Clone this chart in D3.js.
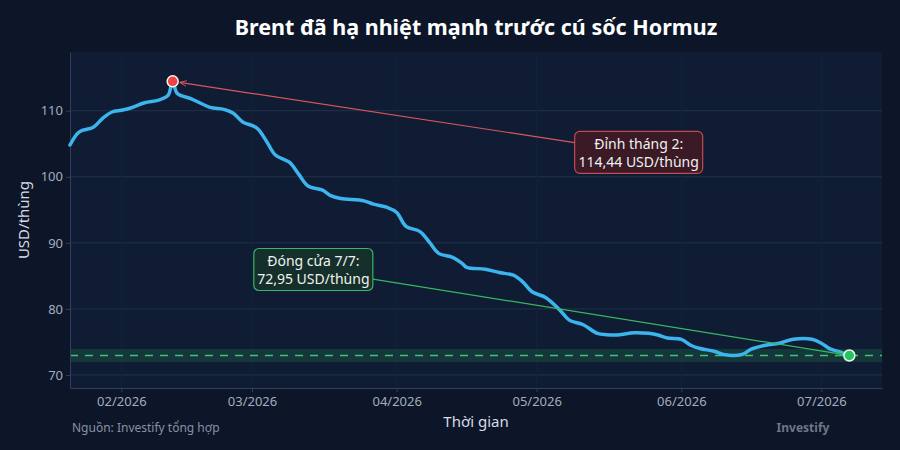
<!DOCTYPE html>
<html>
<head>
<meta charset="utf-8">
<script src="https://cdn.jsdelivr.net/npm/d3@7"></script>
<style>
  html, body { margin: 0; padding: 0; background: #0c1628; }
  svg { display: block; font-family: "Noto Sans", "Open Sans", sans-serif; }
</style>
</head>
<body>
<div id="chart"></div>
<script>
// Brent price
const dates = [
  "2026-01-21", "2026-01-23", "2026-01-26", "2026-01-28", "2026-01-30",
  "2026-02-01", "2026-02-03", "2026-02-06", "2026-02-09", "2026-02-11",
  "2026-02-12", "2026-02-13", "2026-02-16", "2026-02-20", "2026-02-23",
  "2026-02-25", "2026-02-27", "2026-03-02", "2026-03-04", "2026-03-06",
  "2026-03-09", "2026-03-11", "2026-03-13", "2026-03-16", "2026-03-18",
  "2026-03-20", "2026-03-25", "2026-03-27", "2026-03-30", "2026-04-01",
  "2026-04-03", "2026-04-06", "2026-04-08", "2026-04-10", "2026-04-13",
  "2026-04-15", "2026-04-16", "2026-04-20", "2026-04-23", "2026-04-26",
  "2026-04-28", "2026-04-30", "2026-05-03", "2026-05-06", "2026-05-08",
  "2026-05-11", "2026-05-14", "2026-05-16", "2026-05-18", "2026-05-22",
  "2026-05-25", "2026-05-27", "2026-05-29", "2026-06-01", "2026-06-03",
  "2026-06-05", "2026-06-08", "2026-06-10", "2026-06-14", "2026-06-16",
  "2026-06-19", "2026-06-22", "2026-06-25", "2026-06-29", "2026-07-01",
  "2026-07-03", "2026-07-05", "2026-07-07"
];
const prices = [
  104.8, 106.8, 107.5, 108.85, 109.8,
  110.06, 110.4, 111.2, 111.6, 112.3,
  114.44, 112.6, 111.8, 110.5, 110.2,
  109.6, 108.3, 107.4, 105.5, 103.3,
  102.2, 100.4, 98.6, 98.0, 97.1,
  96.7, 96.35, 95.85, 95.35, 94.6,
  92.5, 91.7, 90.1, 88.4, 87.8,
  86.9, 86.3, 86.0, 85.5, 85.1,
  84.1, 82.6, 81.7, 79.8, 78.3,
  77.6, 76.3, 76.1, 76.05, 76.4,
  76.3, 76.05, 75.6, 75.4, 74.5,
  74.0, 73.6, 73.1, 73.1, 73.9,
  74.5, 74.8, 75.4, 75.4, 74.8,
  73.9, 73.5, 72.95
];
const yTicks = [70, 80, 90, 100, 110];
const xTickDates = ["2026-02-01", "2026-03-01", "2026-04-01", "2026-05-01", "2026-06-01", "2026-07-01"];
const xDomain = ["2026-01-21", "2026-07-14"];
const yDomain = [68.03, 118.88];
const peakDate = "2026-02-12", peakValue = 114.44;
const closeDate = "2026-07-07", closeValue = 72.95;
const closeBand = [71.95, 73.95];
const peakLines = ["Đỉnh tháng 2:", "114,44 USD/thùng"];
const closeLines = ["Đóng cửa 7/7:", "72,95 USD/thùng"];

const width = 900, height = 450;
const margin = { top: 52, right: 18, bottom: 62, left: 70 };
const parse = d3.utcParse("%Y-%m-%d");
const data = dates.map((d, i) => ({ date: parse(d), value: prices[i] }));

const svg = d3.select("#chart").append("svg")
  .attr("width", width)
  .attr("height", height);

svg.append("rect")
  .attr("width", width).attr("height", height)
  .attr("fill", "#0c1628");

const x = d3.scaleUtc()
  .domain(xDomain.map(parse))
  .range([margin.left, width - margin.right]);

const y = d3.scaleLinear()
  .domain(yDomain)
  .range([height - margin.bottom, margin.top]);

// plot background
svg.append("rect")
  .attr("x", margin.left).attr("y", margin.top)
  .attr("width", width - margin.right - margin.left)
  .attr("height", height - margin.bottom - margin.top)
  .attr("fill", "#0f1c33");

// grid
svg.append("g")
  .selectAll("line")
  .data(yTicks)
  .join("line")
  .attr("x1", margin.left).attr("x2", width - margin.right)
  .attr("y1", d => y(d)).attr("y2", d => y(d))
  .attr("stroke", "#22314c")
  .attr("stroke-width", 1);

svg.append("g")
  .selectAll("line")
  .data(xTickDates.map(parse))
  .join("line")
  .attr("x1", d => x(d)).attr("x2", d => x(d))
  .attr("y1", margin.top).attr("y2", height - margin.bottom)
  .attr("stroke", "#14223b")
  .attr("stroke-width", 1);

// closing band + dashed reference
svg.append("rect")
  .attr("x", margin.left)
  .attr("y", y(closeBand[1]))
  .attr("width", width - margin.right - margin.left)
  .attr("height", y(closeBand[0]) - y(closeBand[1]))
  .attr("fill", "#1b4a3e")
  .attr("opacity", 0.6);

svg.append("line")
  .attr("x1", margin.left).attr("x2", width - margin.right)
  .attr("y1", y(closeValue)).attr("y2", y(closeValue))
  .attr("stroke", "#3ec27c")
  .attr("stroke-width", 1.6)
  .attr("stroke-dasharray", "8,7");

// axes
const xAxis = svg.append("g")
  .attr("transform", `translate(0,${height - margin.bottom})`)
  .call(d3.axisBottom(x)
    .tickValues(xTickDates.map(parse))
    .tickFormat(d3.utcFormat("%m/%Y"))
    .tickSize(4).tickPadding(5).tickSizeOuter(0));

const yAxis = svg.append("g")
  .attr("transform", `translate(${margin.left},0)`)
  .call(d3.axisLeft(y).tickValues(yTicks).tickSize(4).tickPadding(3).tickSizeOuter(0));

[xAxis, yAxis].forEach(g => {
  g.select(".domain").attr("stroke", "#2f3f5c");
  g.selectAll(".tick line").attr("stroke", "#2f3f5c");
  g.selectAll(".tick text")
    .attr("fill", "#a3adbd")
    .style("font-size", "13px")
    .style("font-family", "'Noto Sans', sans-serif");
});

// price line
const line = d3.line()
  .x(d => x(d.date))
  .y(d => y(d.value))
  .curve(d3.curveCatmullRom.alpha(0.5));

svg.append("path")
  .datum(data)
  .attr("fill", "none")
  .attr("stroke", "#3cb4ee")
  .attr("stroke-width", 3.5)
  .attr("stroke-linejoin", "round")
  .attr("stroke-linecap", "round")
  .attr("d", line);

// annotations
const defs = svg.append("defs");
function arrowMarker(id, color) {
  defs.append("marker")
    .attr("id", id)
    .attr("viewBox", "0 -5 10 10")
    .attr("refX", 10).attr("refY", 0)
    .attr("markerWidth", 7).attr("markerHeight", 7)
    .attr("markerUnits", "userSpaceOnUse")
    .attr("orient", "auto")
    .append("path")
    .attr("d", "M0,-4L10,0L0,4")
    .attr("fill", "none")
    .attr("stroke", color)
    .attr("stroke-width", 1.3);
}
arrowMarker("arrow-red", "#d9575c");
arrowMarker("arrow-green", "#36b862");

function annotate(px, py, dx, dy, lines, opts) {
  const boxW = opts.w, boxH = 42;
  const cx = px + dx, cy = py + dy;
  // clip connector to box edge
  const ex = px - cx, ey = py - cy;
  const t = Math.min((boxW / 2) / Math.abs(ex), (boxH / 2) / Math.abs(ey));
  const sx = cx + ex * t, sy = cy + ey * t;
  const len = Math.hypot(px - sx, py - sy);
  const stand = 7;
  svg.append("line")
    .attr("x1", sx).attr("y1", sy)
    .attr("x2", px - (px - sx) / len * stand)
    .attr("y2", py - (py - sy) / len * stand)
    .attr("stroke", opts.line)
    .attr("stroke-width", 1.2)
    .attr("marker-end", `url(#${opts.marker})`);

  svg.append("rect")
    .attr("x", cx - boxW / 2).attr("y", cy - boxH / 2)
    .attr("width", boxW).attr("height", boxH)
    .attr("rx", 5)
    .attr("fill", opts.fill)
    .attr("stroke", opts.border)
    .attr("stroke-width", 1.2);

  svg.append("text")
    .attr("x", cx).attr("y", cy - 3)
    .attr("text-anchor", "middle")
    .attr("fill", "#f1f1f1")
    .style("font-size", "14px")
    .selectAll("tspan")
    .data(lines)
    .join("tspan")
    .attr("x", cx)
    .attr("dy", (d, i) => i === 0 ? 0 : 18)
    .text(d => d);
}

const px1 = x(parse(peakDate)), py1 = y(peakValue);
const px2 = x(parse(closeDate)), py2 = y(closeValue);

annotate(px1, py1, 466, 71, peakLines,
  { w: 128, line: "#d9575c", marker: "arrow-red", fill: "#3b1a25", border: "#c24a52" });
annotate(px2, py2, -536, -86, closeLines,
  { w: 119, line: "#36b862", marker: "arrow-green", fill: "#15302a", border: "#37b56a" });

svg.append("circle")
  .attr("cx", px1).attr("cy", py1).attr("r", 5.5)
  .attr("fill", "#ef4444").attr("stroke", "#f4f4f4").attr("stroke-width", 1.5);

svg.append("circle")
  .attr("cx", px2).attr("cy", py2).attr("r", 5.5)
  .attr("fill", "#22c55e").attr("stroke", "#f4f4f4").attr("stroke-width", 1.5);

// titles
svg.append("text")
  .attr("x", 476).attr("y", 35)
  .attr("text-anchor", "middle")
  .attr("fill", "#ffffff")
  .style("font-size", "21.5px")
  .style("font-weight", "700")
  .text("Brent đã hạ nhiệt mạnh trước cú sốc Hormuz");

svg.append("text")
  .attr("x", (margin.left + width - margin.right) / 2)
  .attr("y", 427)
  .attr("text-anchor", "middle")
  .attr("fill", "#d6dbe4")
  .style("font-size", "15px")
  .text("Thời gian");

svg.append("text")
  .attr("transform", `translate(29,${(margin.top + height - margin.bottom) / 2}) rotate(-90)`)
  .attr("text-anchor", "middle")
  .attr("fill", "#d6dbe4")
  .style("font-size", "15px")
  .text("USD/thùng");

svg.append("text")
  .attr("x", 72).attr("y", 432)
  .attr("fill", "#8792a5")
  .style("font-size", "12px")
  .text("Nguồn: Investify tổng hợp");

svg.append("text")
  .attr("x", 803).attr("y", 432)
  .attr("text-anchor", "middle")
  .attr("fill", "#6c778a")
  .style("font-size", "12px")
  .style("font-weight", "700")
  .text("Investify");
</script>
</body>
</html>
